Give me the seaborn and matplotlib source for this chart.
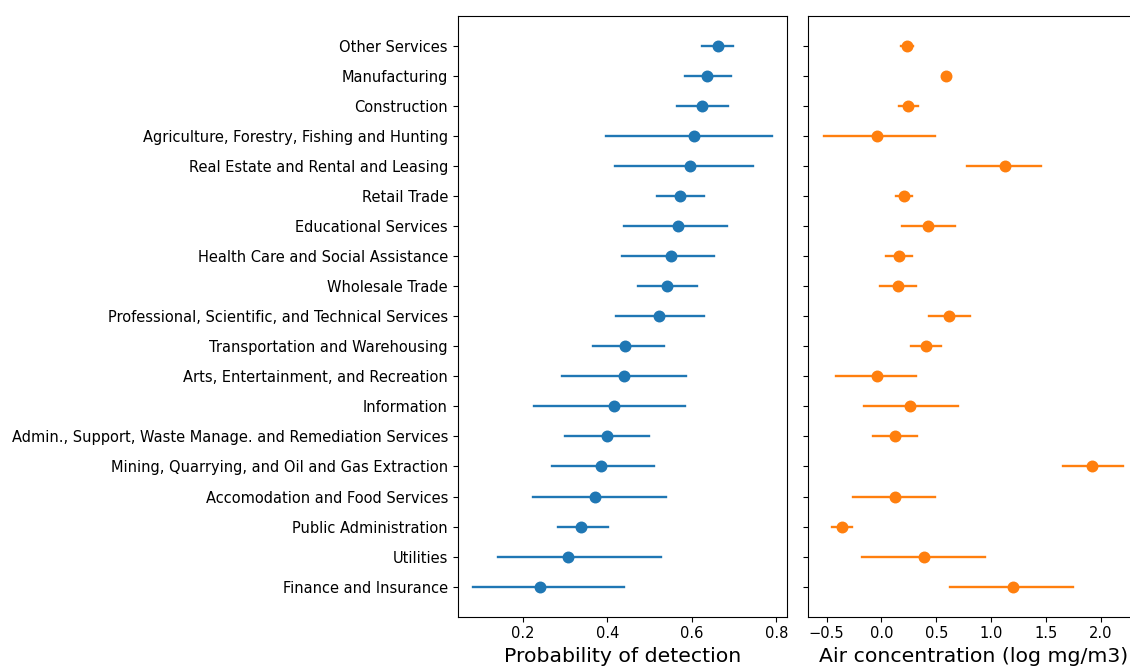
import matplotlib
matplotlib.use("Agg")
import matplotlib.pyplot as plt
import seaborn as sns
import pandas as pd

industries = [
    "Other Services",
    "Manufacturing",
    "Construction",
    "Agriculture, Forestry, Fishing and Hunting",
    "Real Estate and Rental and Leasing",
    "Retail Trade",
    "Educational Services",
    "Health Care and Social Assistance",
    "Wholesale Trade",
    "Professional, Scientific, and Technical Services",
    "Transportation and Warehousing",
    "Arts, Entertainment, and Recreation",
    "Information",
    "Admin., Support, Waste Manage. and Remediation Services",
    "Mining, Quarrying, and Oil and Gas Extraction",
    "Accomodation and Food Services",
    "Public Administration",
    "Utilities",
    "Finance and Insurance",
]

# probability of detection: estimate and interval
pod = [0.661, 0.637, 0.624, 0.605, 0.597, 0.572, 0.568, 0.550, 0.542, 0.522,
       0.443, 0.440, 0.416, 0.399, 0.385, 0.372, 0.338, 0.307, 0.242]
pod_lo = [0.624, 0.585, 0.564, 0.397, 0.419, 0.517, 0.440, 0.434, 0.472, 0.420,
          0.367, 0.294, 0.227, 0.301, 0.269, 0.225, 0.284, 0.141, 0.082]
pod_hi = [0.698, 0.692, 0.685, 0.790, 0.746, 0.628, 0.683, 0.652, 0.613, 0.628,
          0.534, 0.587, 0.585, 0.498, 0.511, 0.539, 0.401, 0.528, 0.440]

# air concentration (log mg/m3): estimate and interval
conc = [0.230, 0.591, 0.239, -0.039, 1.130, 0.203, 0.424, 0.158, 0.148, 0.615,
        0.409, -0.039, 0.261, 0.127, 1.918, 0.127, -0.364, 0.385, 1.197]
conc_lo = [0.182, 0.591, 0.161, -0.524, 0.776, 0.130, 0.185, 0.045, -0.012, 0.436,
           0.267, -0.418, -0.161, -0.073, 1.658, -0.264, -0.448, -0.179, 0.624]
conc_hi = [0.285, 0.591, 0.330, 0.488, 1.452, 0.279, 0.673, 0.276, 0.318, 0.803,
           0.545, 0.315, 0.694, 0.324, 2.197, 0.485, -0.267, 0.943, 1.743]


def long_table(est, lo, hi):
    # three rows per industry so the median is the estimate and min/max the interval
    rows = []
    for name, e, l, h in zip(industries, est, lo, hi):
        for v in (l, e, h):
            rows.append({"industry": name, "value": v})
    return pd.DataFrame(rows)


def span(v):
    return (v.min(), v.max())


fig, (ax1, ax2) = plt.subplots(1, 2, sharey=True, figsize=(11.3, 6.66), dpi=100)
ax1.set_position([0.4050, 0.0740, 0.2917, 0.9024])
ax2.set_position([0.7153, 0.0740, 0.2917, 0.9024])

sns.pointplot(data=long_table(pod, pod_lo, pod_hi), x="value", y="industry",
              order=industries, estimator="median", errorbar=span,
              color="#1f77b4", linestyle="none", markersize=7.3, linewidth=1.7,
              ax=ax1)
sns.pointplot(data=long_table(conc, conc_lo, conc_hi), x="value", y="industry",
              order=industries, estimator="median", errorbar=span,
              color="#ff7f0e", linestyle="none", markersize=7.3, linewidth=1.7,
              ax=ax2)

ax1.set_ylim(19, -1)
ax1.set_xlim(0.046, 0.826)
ax2.set_xlim(-0.667, 2.337)
ax1.set_xticks([0.2, 0.4, 0.6, 0.8])
ax2.set_xticks([-0.5, 0.0, 0.5, 1.0, 1.5, 2.0])

ax1.set_xlabel("Probability of detection", fontsize=14.7)
ax2.set_xlabel("Air concentration (log mg/m3)", fontsize=14.7)
ax1.set_ylabel("")
ax2.set_ylabel("")
ax2.tick_params(axis="y", labelleft=False)
for ax in (ax1, ax2):
    ax.tick_params(axis="both", labelsize=10.5)
    for s in ax.spines.values():
        s.set_visible(True)

plt.savefig("out.png", dpi=100)
